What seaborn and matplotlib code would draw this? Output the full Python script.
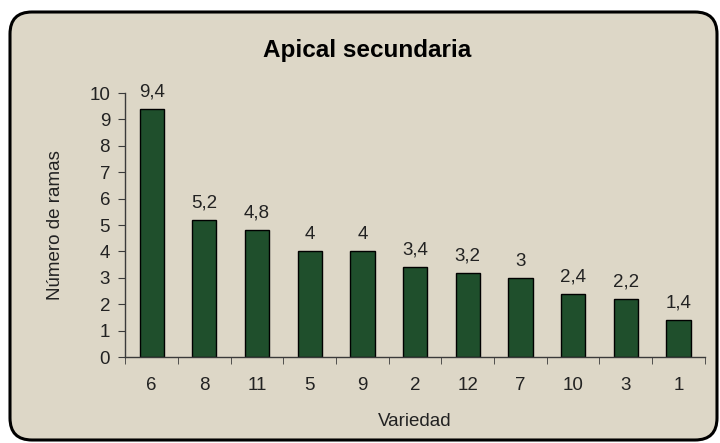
import numpy as np
import pandas as pd
import matplotlib
matplotlib.use("Agg")
import matplotlib.pyplot as plt
from matplotlib.patches import FancyBboxPatch
import seaborn as sns

# Datos
variedades = ["6", "8", "11", "5", "9", "2", "12", "7", "10", "3", "1"]
ramas = [9.4, 5.2, 4.8, 4.0, 4.0, 3.4, 3.2, 3.0, 2.4, 2.2, 1.4]

df = pd.DataFrame({"Variedad": variedades, "Ramas": ramas})

sns.set_style("ticks")
plt.rcParams["font.family"] = ["Liberation Sans", "DejaVu Sans"]

tam = 13.5
fondo = "#ddd7c7"
verde = "#1f4f2c"
gris = "#3a3a3a"
texto = "#222222"

fig = plt.figure(figsize=(7.2, 4.43), dpi=100, facecolor="white")

# marco redondeado (coordenadas en pulgadas)
marco = FancyBboxPatch((0.10, 0.03), 7.07, 4.28,
                       boxstyle="round,pad=0,rounding_size=0.22",
                       transform=fig.dpi_scale_trans,
                       facecolor=fondo, edgecolor="black", linewidth=2.2,
                       zorder=-5)
fig.patches.append(marco)

ax = fig.add_axes([0.174, 0.194, 0.805, 0.596])
ax.set_zorder(2)
ax.set_facecolor("none")

sns.barplot(data=df, x="Variedad", y="Ramas", order=variedades,
            color=verde, width=0.46, edgecolor="black", linewidth=1.0,
            saturation=1, ax=ax)

etiquetas = [f"{v:g}".replace(".", ",") for v in ramas]
ax.bar_label(ax.containers[0], labels=etiquetas, padding=6,
             fontsize=tam, color=texto)

ax.set_ylim(0, 10)
ax.set_xlim(-0.5, len(variedades) - 0.5)
ax.set_yticks(range(0, 11))

# ticks del eje x entre categorías
ax.set_xticks(np.arange(-0.5, len(variedades)), minor=True)
ax.tick_params(axis="x", which="major", length=0, pad=14, labelsize=tam,
               colors=texto)
ax.tick_params(axis="x", which="minor", length=5, direction="out",
               color=gris)
ax.tick_params(axis="y", length=5, direction="out", color=gris,
               labelsize=tam, labelcolor=texto, pad=6)

sns.despine(ax=ax)
for s in ["left", "bottom"]:
    ax.spines[s].set_color(gris)
    ax.spines[s].set_linewidth(1.0)

ax.set_xlabel("Variedad", fontsize=tam, color=texto, labelpad=14)
ax.set_ylabel("Número de ramas", fontsize=tam, color=texto, labelpad=18)

fig.text(0.51, 0.885, "Apical secundaria", ha="center", va="center",
         fontsize=17.5, fontweight="bold", color="black")

fig.savefig("out.png", dpi=100, facecolor=fig.get_facecolor())
